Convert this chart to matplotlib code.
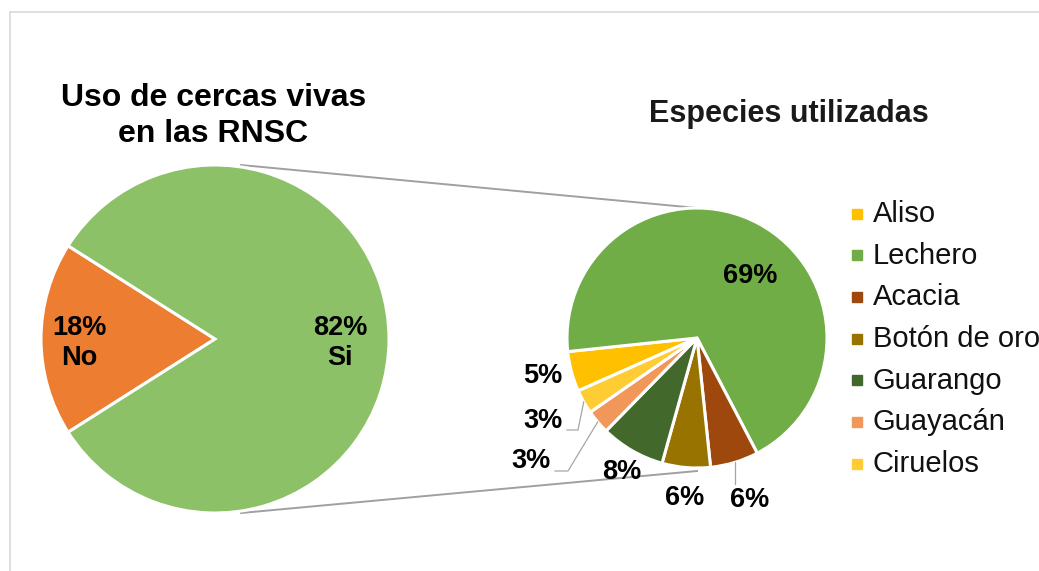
import matplotlib
matplotlib.use('Agg')
import matplotlib.pyplot as plt
import numpy as np
from matplotlib.patches import Rectangle

plt.rcParams['font.family'] = ['Liberation Sans', 'DejaVu Sans']

# --- data ---
uso_labels = ['No', 'Si']
uso_values = [18, 82]
uso_colors = ['#ED7D31', '#8CC168']

especies = ['Aliso', 'Lechero', 'Acacia', 'Botón de oro', 'Guarango', 'Guayacán', 'Ciruelos']
especies_values = [5, 69, 6, 6, 8, 3, 3]
especies_colors = ['#FFC000', '#70AD47', '#9E480E', '#997300', '#43682B', '#F1975A', '#FFCD33']

# --- layout (pixel units, y measured from top) ---
W, H = 1039, 571


def py(y):
    return H - y


c1, r1 = (215, py(339)), 174
c2, r2 = (697, py(338)), 130

# label distance (fraction of radius) for the primary pie
uso_label_dist = [0.78, 0.72]
# where Excel put the percentage labels of the second pie
pct_pos = [(543, 376), (750, 276), (750, 500), (685, 498), (622, 472), (531, 461), (543, 421)]
# elbows of the leader lines (index -> points after the wedge edge)
leaders = {6: [(578, 430), (567, 430)], 5: [(568, 471), (555, 471)], 2: [(None, 484)]}

fig = plt.figure(figsize=(W / 100, H / 100), dpi=100)
ax = fig.add_axes([0, 0, 1, 1])

# frame of the chart area
ax.plot([10, W], [py(12), py(12)], color='#d9d9d9', lw=1.2, zorder=0)
ax.plot([10, 10], [py(12), 0], color='#d9d9d9', lw=1.2, zorder=0)

# connector lines between the two pies
ax.plot([c1[0] + 26, c2[0]], [c1[1] + r1, c2[1] + r2], color='#a0a0a0', lw=1.4, zorder=0)
ax.plot([c1[0] + 26, c2[0]], [c1[1] - r1, c2[1] - r2 - 3], color='#a0a0a0', lw=1.4, zorder=0)

# primary pie, "No" slice centred on the left
start1 = 180 - uso_values[0] / sum(uso_values) * 360 / 2
w1, _ = ax.pie(uso_values, colors=uso_colors, center=c1, radius=r1,
               startangle=start1,
               wedgeprops=dict(edgecolor='white', linewidth=2.2), frame=True)
for w, v, lab, d in zip(w1, uso_values, uso_labels, uso_label_dist):
    th = np.deg2rad((w.theta1 + w.theta2) / 2)
    ax.text(c1[0] + d * r1 * np.cos(th), c1[1] + d * r1 * np.sin(th) - 4,
            f'{v}%\n{lab}', ha='center', va='center', fontsize=19.5,
            fontweight='bold', linespacing=1.2, zorder=5)

# secondary pie
w2, _ = ax.pie(especies_values, colors=especies_colors, center=c2, radius=r2,
               startangle=204, counterclock=False,
               wedgeprops=dict(edgecolor='white', linewidth=2.2), frame=True)

for i, (w, v) in enumerate(zip(w2, especies_values)):
    x, y = pct_pos[i]
    ax.text(x, py(y), f'{v}%', ha='center', va='center', fontsize=19.5,
            fontweight='bold', zorder=5)
    if i in leaders:
        th = np.deg2rad((w.theta1 + w.theta2) / 2)
        ex, ey = c2[0] + r2 * np.cos(th), c2[1] + r2 * np.sin(th)
        xs, ys = [ex], [ey]
        for lx, ly in leaders[i]:
            xs.append(ex if lx is None else lx)
            ys.append(py(ly))
        ax.plot(xs, ys, color='#a6a6a6', lw=0.9, zorder=4)

# titles
ax.text(213.5, py(106), 'Uso de cercas vivas', ha='center', va='baseline',
        fontsize=23, fontweight='bold')
ax.text(213.5, py(142), 'en las RNSC', ha='center', va='baseline',
        fontsize=23, fontweight='bold')
ax.text(789, py(122), 'Especies utilizadas', ha='center', va='baseline',
        fontsize=22, fontweight='bold', color='#1a1a1a')

# legend
for i, (name, col) in enumerate(zip(especies, especies_colors)):
    yc = 213.5 + 41.7 * i
    ax.add_patch(Rectangle((852, py(yc) - 5), 10, 10, color=col, zorder=3))
    ax.text(873, py(yc + 8.5), name, ha='left', va='baseline', fontsize=21,
            color='#111111')

ax.set_xlim(0, W)
ax.set_ylim(0, H)
ax.set_aspect('equal')
ax.axis('off')

fig.savefig('out.png', dpi=100)
